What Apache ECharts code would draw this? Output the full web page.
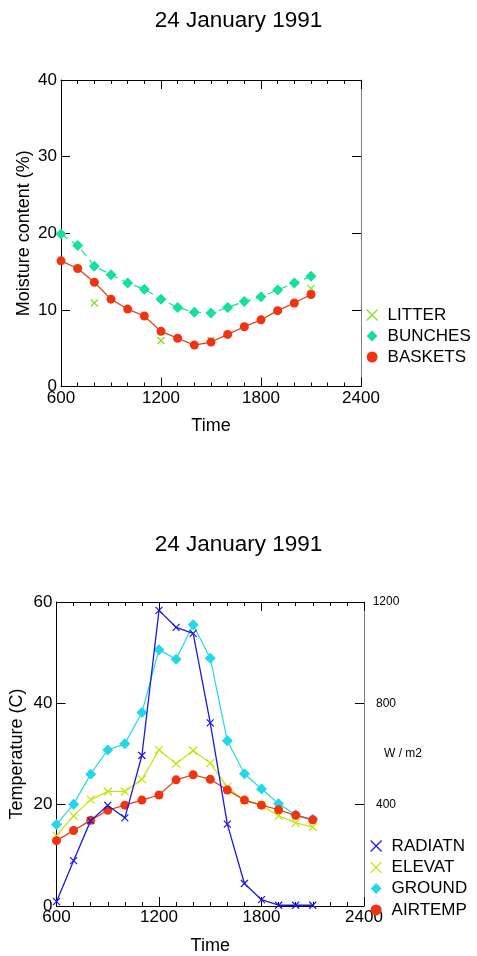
<!DOCTYPE html>
<html>
<head>
<meta charset="utf-8">
<script src="https://cdn.jsdelivr.net/npm/echarts@6/dist/echarts.min.js"></script>
<style>
html,body{margin:0;padding:0;background:#fff;}
#chart{width:477px;height:956px;}
</style>
</head>
<body>
<div id="chart"></div>
<script>
// ---- data ----
var titleText = '24 January 1991';
var times = [600,700,800,900,1000,1100,1200,1300,1400,1500,1600,1700,1800,1900,2000,2100];
var litterTimes = [800,1200,1500,2100];
var litter = [10.9,6.0,6.0,12.8];
var bunches = [19.9,18.4,15.7,14.6,13.5,12.7,11.4,10.3,9.7,9.6,10.3,11.1,11.7,12.6,13.5,14.4];
var baskets = [16.4,15.4,13.6,11.4,10.1,9.2,7.2,6.3,5.4,5.8,6.8,7.8,8.7,9.9,10.9,12.0];
var radiatn = [17,179,337,397,348,594,1167,1100,1076,723,323,89,25,3,3,3];
var elevat = [13.9,17.8,21.0,22.6,22.6,25.0,30.8,28.1,30.7,28.2,23.5,20.8,19.9,17.8,16.4,15.6];
var ground = [16.1,20.1,26.0,30.8,32.0,38.2,50.6,48.7,55.5,48.9,32.6,26.1,23.1,20.2,18.0,17.1];
var airtemp = [12.9,14.9,16.9,18.9,19.9,20.9,21.9,24.9,25.9,25.0,22.9,20.9,19.9,19.0,17.9,17.0];
var xTicks = {min:600, max:2400, interval:600};
var moistTicks = {min:0, max:40, interval:10};
var tempTicks = {min:0, max:60, interval:20};
var radTicks = {min:0, max:1200, interval:400};

function pairs(xs, ys){ return xs.map(function(x,i){ return [x, ys[i]]; }); }
function plain(v){ return String(v); }

var FONT = 'Liberation Sans, Arial, sans-serif';
var CROSS = 'path://M0,0L10,10M10,0L0,10';
var C = {
  litter:'#7ee21a', bunches:'#12e09c', baskets:'#ee3410',
  radiatn:'#1a1ae0', elevat:'#c4e400', ground:'#22d8e6', airtemp:'#ee3410'
};

function xAxisCfg(gridIndex, pos, labels, name){
  return {
    type:'value', gridIndex:gridIndex, position:pos,
    min:xTicks.min, max:xTicks.max, interval:xTicks.interval,
    axisLine:{show:true, onZero:false, lineStyle:{color:'#000', width:1}},
    axisTick:{show:true, inside:true, length:9, lineStyle:{color:'#000'}},
    minorTick:{show:true, splitNumber:6, length:4, lineStyle:{color:'#000'}},
    splitLine:{show:false},
    axisLabel:{show:labels, fontSize:17, color:'#000', fontFamily:FONT, margin:3, formatter:plain},
    name:name || '', nameLocation:'middle', nameGap:31, nameMoveOverlap:false,
    nameTextStyle:{fontSize:18, color:'#000', fontFamily:FONT}
  };
}

var option = {
  animation:false,
  backgroundColor:'#fff',
  title:[
    {text:titleText, left:'center', top:4, textStyle:{fontSize:22.5, fontWeight:'normal', color:'#000', fontFamily:FONT}},
    {text:titleText, left:'center', top:528, textStyle:{fontSize:22.5, fontWeight:'normal', color:'#000', fontFamily:FONT}}
  ],
  grid:[
    {left:61, top:80, right:116, bottom:569.5, containLabel:false},
    {left:56, top:602, right:113, bottom:47.7, containLabel:false}
  ],
  xAxis:[
    xAxisCfg(0,'bottom',true,'Time'),
    xAxisCfg(0,'top',false),
    xAxisCfg(1,'bottom',true,'Time'),
    xAxisCfg(1,'top',false)
  ],
  yAxis:[
    {type:'value', gridIndex:0, position:'left', min:moistTicks.min, max:moistTicks.max, interval:moistTicks.interval,
     axisLine:{show:true, lineStyle:{color:'#000'}}, axisTick:{show:true, inside:true, length:9, lineStyle:{color:'#000'}},
     splitLine:{show:false}, axisLabel:{fontSize:17, color:'#000', fontFamily:FONT, margin:4, formatter:plain},
     name:'Moisture content (%)', nameLocation:'middle', nameGap:28, nameRotate:90, nameMoveOverlap:false,
     nameTextStyle:{fontSize:18, color:'#000', fontFamily:FONT}},
    {type:'value', gridIndex:0, position:'right', min:moistTicks.min, max:moistTicks.max, interval:moistTicks.interval,
     axisLine:{show:true, lineStyle:{color:'#808080'}}, axisTick:{show:true, inside:true, length:9, lineStyle:{color:'#000'}},
     splitLine:{show:false}, axisLabel:{show:false}},
    {type:'value', gridIndex:1, position:'left', min:tempTicks.min, max:tempTicks.max, interval:tempTicks.interval,
     axisLine:{show:true, lineStyle:{color:'#000'}}, axisTick:{show:true, inside:true, length:9, lineStyle:{color:'#000'}},
     splitLine:{show:false}, axisLabel:{fontSize:17, color:'#000', fontFamily:FONT, margin:4, formatter:plain},
     name:'Temperature (C)', nameLocation:'middle', nameGap:30.5, nameRotate:90, nameMoveOverlap:false,
     nameTextStyle:{fontSize:18, color:'#000', fontFamily:FONT}},
    {type:'value', gridIndex:1, position:'right', min:radTicks.min, max:radTicks.max, interval:radTicks.interval,
     axisLine:{show:true, lineStyle:{color:'#808080'}}, axisTick:{show:true, inside:true, length:9, lineStyle:{color:'#000'}},
     splitLine:{show:false}, axisLabel:{showMinLabel:false, fontSize:12, color:'#000', fontFamily:FONT, margin:22, align:'center', formatter:plain},
     name:'W / m2', nameLocation:'middle', nameGap:20, nameRotate:0, nameMoveOverlap:false,
     nameTextStyle:{fontSize:12, color:'#000', fontFamily:FONT}}
  ],
  legend:[
    {orient:'vertical', left:361, top:301, itemWidth:11, itemHeight:11, itemGap:3,
     textStyle:{fontSize:17, lineHeight:18, color:'#000', fontFamily:FONT, padding:[0,0,0,5]},
     data:[
       {name:'LITTER', icon:CROSS, itemStyle:{borderWidth:1.2}},
       {name:'BUNCHES', icon:'diamond'},
       {name:'BASKETS', icon:'circle'}
     ]},
    {orient:'vertical', left:365, top:832, itemWidth:11, itemHeight:11, itemGap:3.3,
     textStyle:{fontSize:17, lineHeight:18, color:'#000', fontFamily:FONT, padding:[0,0,0,5]},
     data:[
       {name:'RADIATN', icon:CROSS, itemStyle:{borderWidth:1.2}},
       {name:'ELEVAT', icon:CROSS, itemStyle:{borderWidth:1.2}},
       {name:'GROUND', icon:'diamond'},
       {name:'AIRTEMP', icon:'circle'}
     ]}
  ],
  series:[
    {name:'LITTER', type:'line', xAxisIndex:0, yAxisIndex:0, data:pairs(litterTimes, litter),
     symbol:CROSS, symbolSize:7, showAllSymbol:true,
     lineStyle:{width:0, opacity:0},
     itemStyle:{color:C.litter, borderColor:C.litter, borderWidth:1.2}},
    {name:'BUNCHES', type:'line', xAxisIndex:0, yAxisIndex:0, data:pairs(times, bunches),
     symbol:'diamond', symbolSize:11, showAllSymbol:true,
     lineStyle:{width:1.2, type:[8,5], color:C.bunches},
     itemStyle:{color:C.bunches, borderWidth:0}},
    {name:'BASKETS', type:'line', xAxisIndex:0, yAxisIndex:0, data:pairs(times, baskets),
     symbol:'circle', symbolSize:9, showAllSymbol:true,
     lineStyle:{width:1.2, color:C.baskets},
     itemStyle:{color:C.baskets, borderWidth:0}},
    {name:'RADIATN', type:'line', xAxisIndex:2, yAxisIndex:3, data:pairs(times, radiatn),
     symbol:CROSS, symbolSize:7, showAllSymbol:true,
     lineStyle:{width:1.3, color:C.radiatn},
     itemStyle:{color:C.radiatn, borderColor:C.radiatn, borderWidth:1.2}, z:5},
    {name:'ELEVAT', type:'line', xAxisIndex:2, yAxisIndex:2, data:pairs(times, elevat),
     symbol:CROSS, symbolSize:8, showAllSymbol:true,
     lineStyle:{width:1.2, color:C.elevat},
     itemStyle:{color:C.elevat, borderColor:C.elevat, borderWidth:1.2}},
    {name:'GROUND', type:'line', xAxisIndex:2, yAxisIndex:2, data:pairs(times, ground),
     symbol:'diamond', symbolSize:11, showAllSymbol:true,
     lineStyle:{width:1.2, color:C.ground},
     itemStyle:{color:C.ground, borderWidth:0}},
    {name:'AIRTEMP', type:'line', xAxisIndex:2, yAxisIndex:2, data:pairs(times, airtemp),
     symbol:'circle', symbolSize:9, showAllSymbol:true,
     lineStyle:{width:1.2, color:C.airtemp},
     itemStyle:{color:C.airtemp, borderWidth:0}}
  ]
};

var chart = echarts.init(document.getElementById('chart'), null, {renderer:'canvas'});
chart.setOption(option);
</script>
</body>
</html>
